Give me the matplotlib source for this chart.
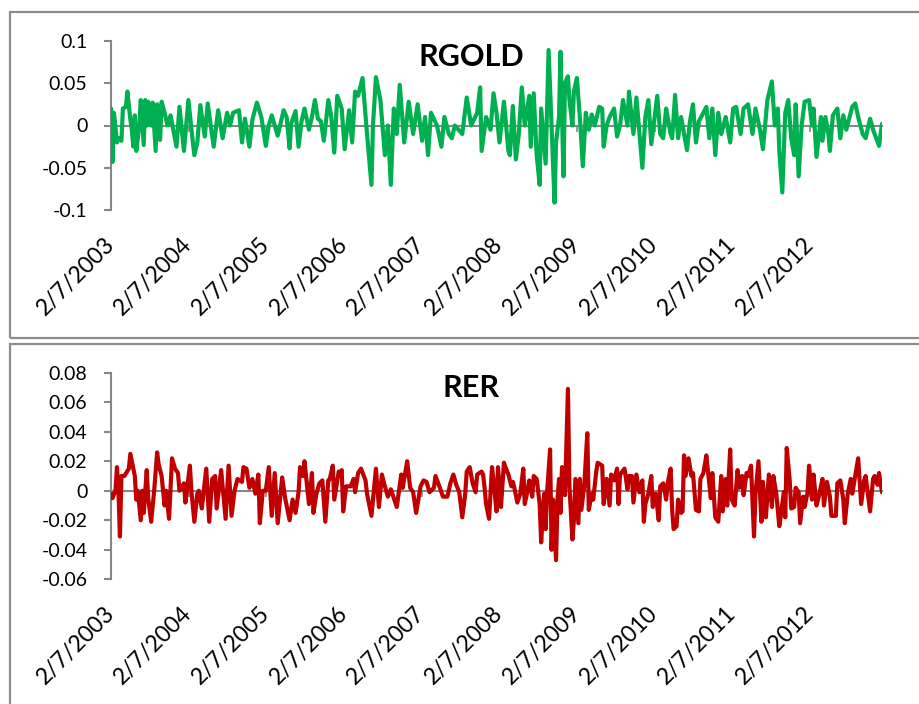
import datetime as dt
import matplotlib
matplotlib.use("Agg")
import matplotlib.pyplot as plt
import matplotlib.dates as mdates
from matplotlib.patches import Rectangle

# ---------------- data (weeks after 2/7/2003) ----------------
start_date = dt.date(2003, 2, 7)

rgold_week = [
    0, 1, 2, 4, 5, 7, 8, 10, 11, 13, 14, 15, 16, 17, 19, 20, 22, 23, 24, 25,
    27, 28, 30, 31, 33, 34, 36, 38, 40, 44, 46, 49, 52, 55, 56, 58, 60, 63, 65, 67,
    69, 72, 75, 78, 80, 82, 86, 88, 90, 93, 95, 98, 101, 104, 106, 108, 112, 116, 118, 120,
    121, 124, 126, 128, 130, 133, 135, 137, 139, 141, 143, 146, 148, 150, 152, 155, 157, 160, 162, 164,
    166, 169, 172, 175, 176, 178, 181, 184, 186, 188, 190, 192, 194, 197, 200, 203, 206, 209, 211, 213,
    215, 219, 222, 224, 227, 229, 231, 236, 239, 242, 246, 248, 249,
    252, 255, 257, 259, 261, 264, 267, 268, 270, 272, 274, 276, 278, 281, 282, 284, 286, 288, 289, 292,
    294, 296, 298, 299, 301, 302, 304, 305, 307, 308, 310, 311, 313, 315, 317, 319, 321, 323, 325, 328,
    330, 331, 333, 335, 338, 340, 342, 344, 347, 348, 351, 353, 357, 359, 361, 363, 367, 369, 371, 373,
    376, 377, 379, 381, 383, 387, 389, 391, 393, 395, 398, 400, 402, 404, 406, 408, 410, 413, 416, 418,
    420, 423, 425, 428, 431, 433, 436, 438, 441, 444, 446, 448, 449, 451, 453, 455, 457, 459, 460, 462,
    464, 466, 469, 471, 472, 474, 477, 478, 480, 482, 483, 485, 488, 490, 492, 494, 498, 500, 502, 505,
    507, 510, 512, 516, 518,
]
rgold_value = [
    0.020, -0.043, 0.015, -0.020, -0.015, -0.018, 0.020, 0.022, 0.040, 0.007, -0.005, -0.025, 0.012, -0.030, 0.000, 0.030, -0.023, 0.030, 0.000, 0.028,
    0.000, 0.027, -0.030, 0.025, -0.017, 0.028, 0.015, 0.000, 0.012, -0.025, 0.022, -0.030, 0.030, -0.020, -0.035, -0.020, 0.024, -0.013, 0.026, 0.000,
    -0.025, 0.018, -0.015, 0.015, 0.000, 0.015, 0.018, -0.020, 0.008, -0.025, 0.007, 0.027, 0.010, -0.024, 0.000, 0.012, -0.012, 0.018, 0.010, -0.027,
    0.002, 0.017, -0.025, 0.005, 0.020, -0.005, 0.010, 0.030, 0.008, 0.005, -0.018, 0.030, 0.010, -0.032, 0.035, 0.020, -0.028, 0.018, -0.020, 0.040,
    0.035, 0.056, -0.010, -0.070, 0.000, 0.057, 0.030, -0.035, 0.000, -0.070, 0.020, -0.010, 0.048, -0.020, 0.028, -0.010, 0.025, -0.018, 0.010, -0.035,
    0.015, 0.000, -0.025, 0.010, -0.010, -0.015, 0.000, -0.010, 0.033, 0.000, 0.015, 0.045, -0.030,
    0.010, -0.005, 0.038, 0.015, -0.020, 0.028, -0.030, -0.035, 0.023, -0.040, -0.010, 0.045, 0.000, 0.035, -0.025, 0.038, -0.035, -0.070, 0.020, -0.045,
    0.089, 0.000, -0.091, -0.020, 0.010, 0.087, -0.060, 0.050, 0.058, 0.030, 0.000, 0.040, 0.056, 0.010, -0.048, 0.015, -0.005, 0.013, 0.000, 0.022,
    0.020, -0.025, 0.000, 0.010, 0.020, -0.013, 0.000, 0.030, 0.000, 0.040, -0.010, 0.033, -0.050, 0.010, 0.030, -0.022, 0.035, -0.010, -0.015, 0.020,
    -0.010, -0.015, 0.036, -0.015, 0.010, -0.029, 0.005, 0.025, -0.020, 0.005, 0.015, 0.022, -0.015, 0.020, -0.035, 0.015, -0.010, 0.010, -0.020, 0.020,
    0.022, -0.010, 0.020, 0.025, -0.010, 0.020, -0.005, -0.028, 0.030, 0.052, 0.000, 0.020, -0.030, -0.079, 0.015, 0.030, -0.015, -0.035, 0.025, -0.060,
    0.000, 0.028, 0.030, 0.000, 0.020, -0.037, 0.010, -0.018, 0.010, -0.010, -0.030, 0.012, 0.020, -0.015, 0.012, -0.005, 0.022, 0.026, 0.010, -0.010,
    -0.015, 0.008, -0.005, -0.024, 0.002,
]

rer_week = [
    0, 1, 3, 4, 5, 6, 7, 9, 12, 13, 15, 16, 17, 18, 20, 21, 22, 24, 25, 27,
    29, 31, 32, 34, 36, 37, 39, 41, 43, 45, 46, 49, 50, 53, 54, 56, 58, 59, 61, 64,
    66, 68, 70, 71, 74, 77, 79, 81, 83, 85, 88, 89, 91, 93, 95, 97, 99, 100, 102, 104,
    106, 108, 110, 112, 115, 117,
    120, 122, 124, 126, 127, 129, 130, 133, 135, 136, 138, 140, 142, 144, 146, 147, 149, 150, 153, 154,
    155, 156, 158, 161, 163, 164, 166, 168, 171, 172, 175, 178, 180, 182, 184, 186, 188, 190, 192, 195,
    196, 199, 201, 203, 205, 208, 210, 212, 214, 217, 218, 221, 223, 226, 228, 230, 232, 234, 236, 238,
    239, 241, 243, 245, 246, 249,
    250, 251, 252, 254, 256, 257, 259, 260, 262, 264, 265, 267, 269, 270, 271, 273, 275, 277, 278, 280,
    281, 283, 284, 286, 288, 289, 291, 292, 293, 295, 296, 297, 299, 300, 301, 302, 303, 305, 307, 308,
    310, 311, 312, 314, 315, 316, 318, 320, 321, 323, 324, 326, 327, 330, 331, 333, 335, 336, 338, 340,
    341, 342, 345, 347, 348, 350, 351, 353, 355, 357, 358, 359, 361, 363, 364, 366, 368, 369, 371, 373,
    374, 376,
    377, 378, 380, 381, 383, 384, 385, 386, 388, 390, 391, 393, 395, 396, 398, 400, 401, 403, 404, 406,
    408, 410, 411, 413, 414, 416, 417, 419, 421, 422, 424, 425, 427, 428, 430, 432, 433, 435, 437, 438,
    440, 442, 444, 445, 447, 449, 450, 452, 453, 454, 456, 457, 459, 460, 462, 463, 465, 466, 468, 469,
    471, 472, 474, 476, 478, 479, 481, 483, 484, 487, 488, 490, 492, 493, 495, 497, 498, 500, 502, 504,
    506, 507, 509, 510, 512, 513, 515, 516, 518,
]
rer_value = [
    -0.002, -0.005, 0.000, 0.016, 0.000, -0.031, 0.010, 0.010, 0.015, 0.025, 0.015, 0.010, -0.006, 0.000, -0.020, 0.000, -0.015, 0.014, -0.005, -0.021,
    0.000, 0.026, 0.018, 0.010, -0.010, 0.000, -0.019, 0.022, 0.015, 0.012, 0.000, 0.005, -0.008, 0.017, 0.000, -0.021, -0.002, 0.000, -0.012, 0.015,
    -0.021, 0.008, 0.010, -0.012, 0.014, -0.019, 0.017, -0.017, 0.000, 0.008, 0.006, 0.016, 0.015, 0.002, 0.008, -0.002, 0.011, -0.022, 0.000, 0.000,
    0.016, -0.017, 0.012, -0.022, 0.009, -0.005,
    -0.020, -0.006, -0.015, -0.001, 0.016, 0.010, 0.020, -0.009, 0.012, -0.015, -0.002, 0.005, 0.007, -0.021, 0.007, 0.008, 0.017, -0.006, 0.013, 0.011,
    0.014, -0.014, 0.003, 0.003, 0.008, -0.001, 0.012, 0.015, 0.007, -0.002, -0.017, 0.015, -0.011, 0.011, 0.003, -0.004, 0.001, -0.005, -0.011, 0.011,
    0.002, 0.020, 0.002, -0.001, -0.015, 0.003, 0.007, 0.006, -0.001, 0.002, 0.010, 0.002, -0.004, -0.004, 0.005, 0.011, 0.004, -0.001, -0.018, -0.002,
    0.013, 0.016, 0.005, -0.001, 0.011, 0.013,
    0.011, 0.002, -0.009, -0.019, 0.016, 0.007, -0.014, 0.016, -0.011, 0.019, 0.016, 0.011, 0.003, 0.006, 0.002, -0.008, -0.002, 0.015, -0.009, 0.001,
    0.007, -0.004, 0.010, 0.008, -0.009, -0.035, -0.002, -0.026, -0.001, 0.028, -0.040, -0.006, -0.047, -0.006, 0.008, -0.015, 0.016, -0.003, 0.069, 0.003,
    -0.033, -0.020, 0.008, -0.022, 0.008, -0.013, 0.004, 0.039, -0.013, -0.002, -0.006, 0.013, 0.019, 0.017, -0.009, 0.008, -0.010, 0.011, 0.007, 0.015,
    -0.009, 0.011, 0.015, 0.001, 0.010, 0.010, -0.008, 0.011, -0.001, 0.007, -0.021, -0.009, -0.002, 0.010, -0.011, -0.002, -0.020, 0.003, 0.005, -0.006,
    0.005, 0.015,
    -0.013, -0.026, -0.024, -0.006, -0.015, -0.014, 0.024, 0.010, 0.022, 0.010, 0.012, -0.013, -0.014, 0.008, 0.012, 0.024, 0.014, -0.005, 0.012, -0.018,
    -0.021, 0.010, -0.014, 0.008, -0.010, 0.028, -0.006, -0.010, 0.014, 0.002, 0.010, -0.003, 0.012, 0.010, 0.017, -0.031, -0.002, 0.020, -0.021, 0.006,
    -0.018, 0.011, -0.011, 0.010, -0.002, -0.024, -0.017, -0.001, -0.018, 0.029, 0.007, -0.012, -0.011, 0.002, -0.001, -0.022, -0.004, -0.011, -0.001, 0.017,
    -0.006, 0.011, -0.010, -0.002, 0.008, -0.010, 0.006, -0.004, -0.017, -0.017, 0.005, 0.007, -0.006, -0.022, -0.002, 0.008, -0.002, 0.010, 0.022, -0.009,
    0.007, 0.010, -0.006, -0.014, 0.008, 0.010, 0.004, 0.012, -0.001,
]

tick_years = [2003, 2004, 2005, 2006, 2007, 2008, 2009, 2010, 2011, 2012]
tick_labels = ["2/7/2003", "2/7/2004", "2/7/2005", "2/7/2006", "2/7/2007",
               "2/7/2008", "2/7/2009", "2/7/2010", "2/7/2011", "2/7/2012"]
last_week = 518

rgold_yticks = [-0.1, -0.05, 0, 0.05, 0.1]
rgold_ylabels = ["-0.1", "-0.05", "0", "0.05", "0.1"]
rer_yticks = [-0.06, -0.04, -0.02, 0, 0.02, 0.04, 0.06, 0.08]
rer_ylabels = ["-0.06", "-0.04", "-0.02", "0", "0.02", "0.04", "0.06", "0.08"]

assert len(rgold_week) == len(rgold_value), (len(rgold_week), len(rgold_value))
assert len(rer_week) == len(rer_value), (len(rer_week), len(rer_value))

# ---------------- figure ----------------
W, H = 919, 704
plt.rcParams["font.family"] = ["Lato", "DejaVu Sans"]
fig = plt.figure(figsize=(W / 100, H / 100), dpi=100)

GRAY = "#878787"
BORDER = "#8c8c8c"
base = mdates.date2num(start_date)


def to_date(weeks):
    return [base + 7 * w for w in weeks]


tick_pos = [mdates.date2num(dt.date(y, 2, 7)) for y in tick_years]


def px_axes(x0, y0, x1, y1):
    return fig.add_axes([x0 / W, 1 - y1 / H, (x1 - x0) / W, (y1 - y0) / H])


# panel borders
fig.patches.append(Rectangle((10 / W, 1 - 338 / H), (940 - 10) / W, (338 - 12) / H,
                             transform=fig.transFigure, fill=False, edgecolor=BORDER, lw=1.6))
fig.patches.append(Rectangle((10 / W, 1 - 720 / H), (940 - 10) / W, (720 - 344) / H,
                             transform=fig.transFigure, fill=False, edgecolor=BORDER, lw=1.6))


def setup(ax, weeks, values, color, yticks, ylabels, ylim, title, title_y):
    ax.plot(to_date(weeks), values, color=color, lw=3.0, solid_joinstyle="round",
            solid_capstyle="round", zorder=3)
    ax.set_ylim(*ylim)
    ax.set_xlim(base, base + 7 * last_week)
    ax.set_yticks(yticks)
    ax.set_yticklabels(ylabels)
    ax.set_xticks(tick_pos)
    for s in ("top", "right"):
        ax.spines[s].set_visible(False)
    ax.spines["left"].set_color(GRAY)
    ax.spines["left"].set_linewidth(1.5)
    ax.spines["bottom"].set_position(("data", 0))
    ax.spines["bottom"].set_color(GRAY)
    ax.spines["bottom"].set_linewidth(1.5)
    ax.spines["bottom"].set_zorder(2)
    ax.tick_params(axis="y", direction="out", length=5, width=1.5, color=GRAY,
                   labelsize=14, pad=12, labelcolor="black")
    ax.tick_params(axis="x", direction="out", length=4, width=1.2, color=GRAY,
                   labelbottom=False)
    ax.patch.set_visible(False)
    sec = ax.secondary_xaxis("bottom")
    sec.set_xticks(tick_pos)
    sec.set_xticklabels(tick_labels, rotation=45, ha="right", va="center",
                        rotation_mode="anchor")
    sec.tick_params(length=0, pad=22, labelsize=16.5)
    sec.spines["bottom"].set_visible(False)
    fig.text(471 / W, 1 - title_y / H, title, ha="center", va="center",
             fontsize=22, fontweight="bold")


ax1 = px_axes(111, 40.7, 882, 210.3)
setup(ax1, rgold_week, rgold_value, "#00B050", rgold_yticks, rgold_ylabels, (-0.1, 0.1), "RGOLD", 57)

ax2 = px_axes(111, 372.7, 882, 579.3)
setup(ax2, rer_week, rer_value, "#C00000", rer_yticks, rer_ylabels, (-0.06, 0.08), "RER", 388)

fig.savefig("out.png", dpi=100)
